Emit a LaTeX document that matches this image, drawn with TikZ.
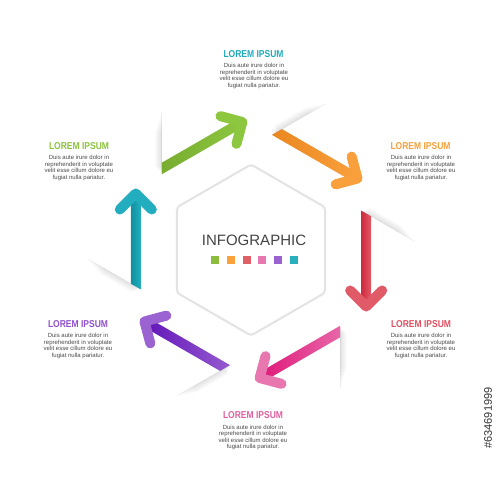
\documentclass[tikz,border=0pt]{standalone}
\usepackage{fontspec}
\setmainfont{Liberation Sans}
\usepackage{graphicx}
\definecolor{gd}{HTML}{74A82E}\definecolor{gl}{HTML}{8DC63F}
\definecolor{od}{HTML}{E8841C}\definecolor{ol}{HTML}{F9A03C}
\definecolor{rd}{HTML}{CF2A3C}\definecolor{rl}{HTML}{E05A68}
\definecolor{pd}{HTML}{E0187A}\definecolor{pl}{HTML}{E877B0}
\definecolor{vd}{HTML}{6316B8}\definecolor{vl}{HTML}{9B63D2}
\definecolor{td}{HTML}{11909E}\definecolor{tl}{HTML}{22AEBF}
\definecolor{txtgray}{HTML}{4A4A4A}
\definecolor{titlegray}{HTML}{444444}
\definecolor{tTeal}{HTML}{1EAABB}\definecolor{tGreen}{HTML}{8CC43C}
\definecolor{tOrange}{HTML}{F7A03A}\definecolor{tRed}{HTML}{E05060}
\definecolor{tPurple}{HTML}{9050D0}\definecolor{tPink}{HTML}{E060A0}
\definecolor{sqG}{HTML}{8CBC3C}\definecolor{sqO}{HTML}{F9A23C}
\definecolor{sqR}{HTML}{E06068}\definecolor{sqP}{HTML}{E878B0}
\definecolor{sqV}{HTML}{9A62D0}\definecolor{sqT}{HTML}{28B0BC}
\tikzset{
  ttl/.style={font=\bfseries\fontsize{10}{10}\selectfont, inner sep=0pt},
  bodytxt/.style={font=\fontsize{6}{6.5}\selectfont, align=center, inner sep=0pt, text=txtgray},
  sq/.style={minimum size=8pt, inner sep=0pt, draw=none},
}
\newcommand{\ttltext}{\scalebox{0.85}[1]{LOREM IPSUM}}
\newcommand{\bodytext}{Duis aute irure dolor in\\reprehenderit in voluptate\\velit esse cillum dolore eu\\fugiat nulla pariatur.}
\begin{document}
\begin{tikzpicture}[x=1pt,y=1pt]
\useasboundingbox[fill=white] (-251,-250) rectangle (249,250);

% central hexagon
\draw[line width=2pt, color=black!11, rounded corners=3pt]
  (90:85.5) -- (30:85.5) -- (-30:85.5) -- (-90:85.5) -- (-150:85.5) -- (150:85.5) -- cycle;
\node[font=\fontsize{15}{15}\selectfont, text=titlegray, inner sep=0pt] (info) at (3,9.5) {INFOGRAPHIC};
\node[sq, fill=sqG] (s1) at (-36.3,-10) {};
\node[sq, fill=sqO] (s2) at (-20.4,-10) {};
\node[sq, fill=sqR] (s3) at (-4.5,-10) {};
\node[sq, fill=sqP] (s4) at (11.4,-10) {};
\node[sq, fill=sqV] (s5) at (27.3,-10) {};
\node[sq, fill=sqT] (s6) at (43.2,-10) {};

% arrows along the hexagon edges (clockwise)
\foreach \k/\dk/\lt in {0/gd/gl, 1/od/ol, 2/rd/rl, 3/pd/pl, 4/vd/vl, 5/td/tl}{
  \begin{scope}[shift={(150-60*\k:133)}, rotate=30-60*\k]
    \begin{scope}
      \clip (-77.5,-186.2) -- (122.5,160.2) -- (382.3,10.2) -- (182.3,-336.2) -- cycle;
      \shade[left color=\dk, right color=\lt] (15,-5) rectangle (119,5);
      \draw[\lt, line width=10pt, line cap=round, line join=round] (107,16) -- (123,0) -- (107,-16);
    \end{scope}
    \begin{scope}[shift={(30,0)}, rotate=60]
      \foreach \w in {1,...,7}{
        \fill[black, opacity=0.014] (-6+\w,0) rectangle (58-3*\w,\w);
      }
      \draw[black, opacity=0.05, line width=0.6pt] (-5,0) -- (56,0);
    \end{scope}
  \end{scope}
}

% labels
\node[ttl, text=tTeal] (t1) at (2.5,195.5) {\ttltext};
\node[bodytxt] (b1) at (3,174) {\bodytext};
\node[ttl, text=tGreen] (t2) at (-172,103.7) {\ttltext};
\node[bodytxt] (b2) at (-172,82) {\bodytext};
\node[ttl, text=tOrange] (t3) at (169.5,104) {\ttltext};
\node[bodytxt] (b3) at (170,82) {\bodytext};
\node[ttl, text=tRed] (t4) at (170,-74) {\ttltext};
\node[bodytxt] (b4) at (170,-96) {\bodytext};
\node[ttl, text=tPurple] (t5) at (-173,-74) {\ttltext};
\node[bodytxt] (b5) at (-173,-96) {\bodytext};
\node[ttl, text=tPink] (t6) at (2,-165) {\ttltext};
\node[bodytxt] (b6) at (2,-187.5) {\bodytext};

% stock id
\node[rotate=90, font=\fontsize{11}{11}\selectfont, text=black!80, inner sep=0pt] (sid) at (237,-168) {\#634691999};
\end{tikzpicture}
\end{document}
